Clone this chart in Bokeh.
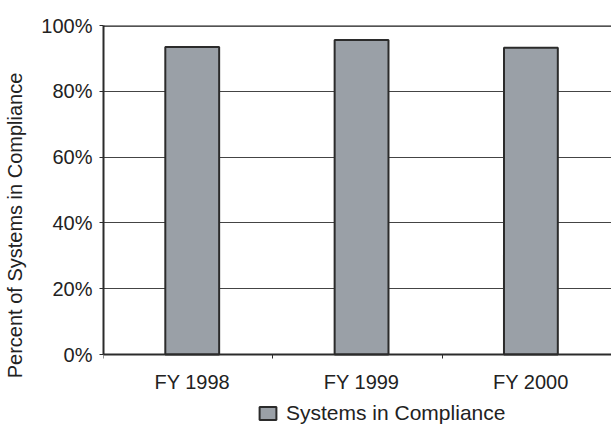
from bokeh.plotting import figure
from bokeh.models import (ColumnDataSource, FixedTicker, Legend, LegendItem,
                          PrintfTickFormatter, Range1d, Span)
from bokeh.transform import dodge
from bokeh.embed import file_html
from bokeh.resources import INLINE

# Share of systems in compliance, by fiscal year
categories = ["FY 1998", "FY 1999", "FY 2000"]
compliance = [93.5, 95.6, 93.2]
y_ticks = [0, 20, 40, 60, 80, 100]

FONT = "Liberation Sans"
FONT_SIZE = "20px"
BAR_FILL = "#9aa0a7"
DARK = "#2b2b2b"
TEXT = "#222222"
SHIFT = 0.024          # bars and their labels sit a touch right of centre

# One unit per category on the x axis; bars sit at the category centres
positions = [i + 0.5 for i in range(len(categories))]
source = ColumnDataSource(data=dict(x=positions, y=compliance, name=categories))

# The frame reaches the bottom of the page so the legend can sit under the
# axis; the value axis itself is bounded to 0-100 %.
PLOT_H, STRIP_H = 329, 71
y_low = -100 * STRIP_H / PLOT_H

p = figure(frame_width=508, frame_height=PLOT_H + STRIP_H, output_backend="svg",
           toolbar_location=None,
           x_range=Range1d(0, len(categories)), y_range=Range1d(y_low, 100),
           min_border_left=103, min_border_right=0, min_border_top=25,
           min_border_bottom=0)
p.outline_line_color = None
p.background_fill_color = "white"
p.border_fill_color = "white"

bars = p.vbar(x=dodge("x", SHIFT), top="y", bottom=0, width=0.318, source=source,
              fill_color=BAR_FILL, line_color=DARK, line_width=2)

# X axis at 0 %: labels under the bars, small ticks at category boundaries
label_pos = [x + SHIFT for x in positions]
p.xaxis.fixed_location = 0
p.xaxis.ticker = FixedTicker(ticks=label_pos,
                             minor_ticks=list(range(len(categories) + 1)))
p.xaxis.major_label_overrides = {pos: lab for pos, lab in zip(label_pos, categories)}
p.xaxis.major_tick_line_color = None
p.xaxis.minor_tick_in = 0
p.xaxis.minor_tick_out = 4
p.xaxis.minor_tick_line_color = DARK
p.xaxis.minor_tick_line_width = 1
p.xaxis.axis_line_color = DARK
p.xaxis.axis_line_width = 2
p.xaxis.major_label_standoff = 10
p.xaxis.major_label_text_font = FONT
p.xaxis.major_label_text_font_size = FONT_SIZE
p.xaxis.major_label_text_color = TEXT
p.xgrid.grid_line_color = None

# Y axis: percentages
p.yaxis.ticker = FixedTicker(ticks=y_ticks)
p.yaxis.bounds = (0, 100)
p.yaxis.formatter = PrintfTickFormatter(format="%d%%")
p.yaxis.axis_label = "Percent of Systems in Compliance"
p.yaxis.axis_label_text_font = FONT
p.yaxis.axis_label_text_font_size = FONT_SIZE
p.yaxis.axis_label_text_font_style = "normal"
p.yaxis.axis_label_text_color = TEXT
p.yaxis.axis_label_standoff = 12
p.yaxis.major_label_text_font = FONT
p.yaxis.major_label_text_font_size = FONT_SIZE
p.yaxis.major_label_text_color = TEXT
p.yaxis.major_label_standoff = 7
p.yaxis.major_tick_in = 0
p.yaxis.major_tick_out = 4
p.yaxis.major_tick_line_color = DARK
p.yaxis.minor_tick_line_color = None
p.yaxis.axis_line_color = DARK
p.yaxis.axis_line_width = 2
p.ygrid.grid_line_color = "#444444"
p.ygrid.grid_line_width = 1
p.ygrid.level = "underlay"

# Heavy rule along the 100% line
p.add_layout(Span(location=100, dimension="width", line_color="#1a1a1a", line_width=2.5))

legend = Legend(items=[LegendItem(label="Systems in Compliance", renderers=[bars])],
                orientation="horizontal", location=(154, 0),
                border_line_color=None, background_fill_alpha=0,
                label_text_font=FONT, label_text_font_size="21px",
                label_text_color=TEXT, glyph_width=21, glyph_height=16,
                label_standoff=8, padding=0, margin=0, spacing=0,
                label_height=16)
p.add_layout(legend, "center")

open("out.html", "w").write(file_html(p, INLINE))
